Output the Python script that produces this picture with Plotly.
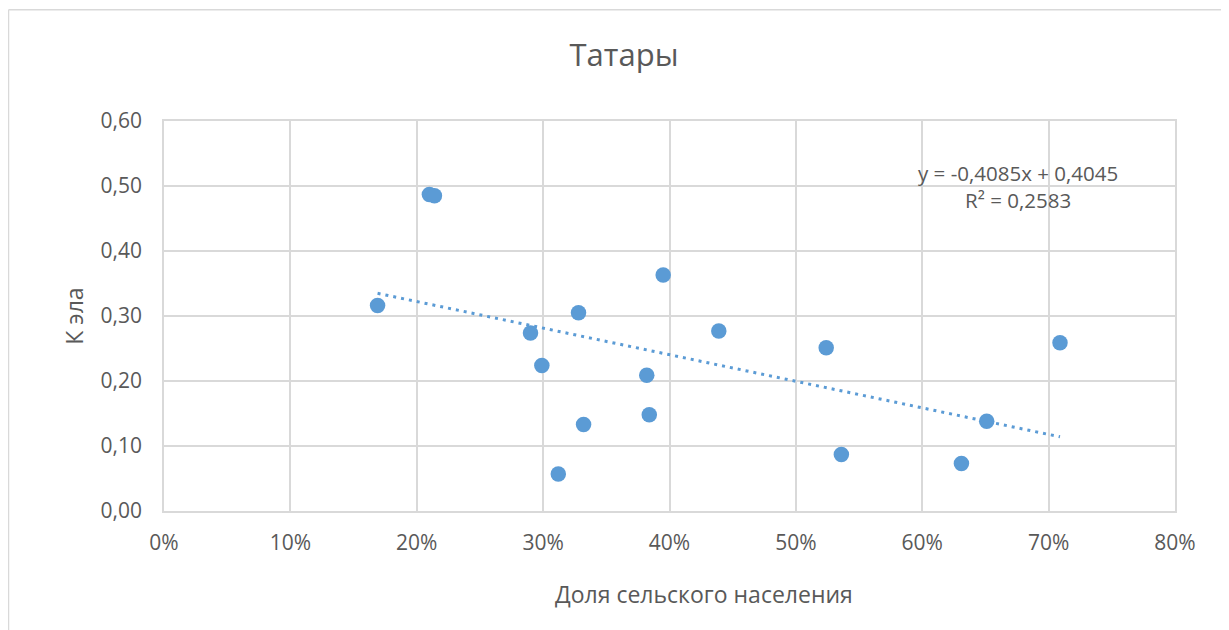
import numpy as np
import plotly.graph_objects as go

# Data
rural_share = [0.169, 0.210, 0.214, 0.290, 0.299, 0.328, 0.395, 0.439, 0.382,
               0.384, 0.332, 0.312, 0.524, 0.709, 0.536, 0.631, 0.651]
k_ela = [0.316, 0.487, 0.485, 0.274, 0.224, 0.305, 0.363, 0.277, 0.209,
         0.148, 0.133, 0.057, 0.251, 0.259, 0.087, 0.073, 0.138]

title_text = "Татары"
x_title = "Доля сельского населения"
y_title = "К эла"
equation_text = "y = -0,4085x + 0,4045<br>R² = 0,2583"

x_ticks = [0, 0.1, 0.2, 0.3, 0.4, 0.5, 0.6, 0.7, 0.8]
x_tick_labels = ["0%", "10%", "20%", "30%", "40%", "50%", "60%", "70%", "80%"]
y_ticks = [0, 0.1, 0.2, 0.3, 0.4, 0.5, 0.6]
y_tick_labels = ["0,00", "0,10", "0,20", "0,30", "0,40", "0,50", "0,60"]

# Linear trendline fitted from the data
xa = np.array(rural_share)
ya = np.array(k_ela)
slope, intercept = np.polyfit(xa, ya, 1)
trend_x = [xa.min(), xa.max()]
trend_y = [slope * v + intercept for v in trend_x]

BLUE = "#5b9bd5"
TEXT = "#595959"
GRID = "#d9d9d9"
FONT = "Open Sans"

fig = go.Figure()
fig.add_trace(go.Scatter(
    x=trend_x, y=trend_y, mode="lines",
    line=dict(color=BLUE, width=3, dash="3px,5px"),
    hoverinfo="skip", showlegend=False,
))
fig.add_trace(go.Scatter(
    x=rural_share, y=k_ela, mode="markers",
    marker=dict(color=BLUE, size=15.5, line=dict(width=0)),
    showlegend=False,
))

fig.add_annotation(
    x=0.676, y=0.5, xref="x", yref="y",
    text=equation_text, showarrow=False, align="center",
    font=dict(family=FONT, size=20.5, color=TEXT),
)

# page has an 8px body margin; figure coordinates are page - 8
W, H = 1221, 622
ml, mt = 156, 113
mr = W - (1175 - 8)
mb = H - (511.5 - 8)
pw, ph = W - ml - mr, H - mt - mb

# x-axis title (offset to the right of plot centre, like the reference)
fig.add_annotation(
    x=(704 - 8 - ml) / pw, y=-(595 - 8 - (H - mb)) / ph,
    xref="paper", yref="paper", xanchor="center", yanchor="middle",
    text=x_title, showarrow=False,
    font=dict(family=FONT, size=23, color=TEXT),
)

# chart-area border (left and top visible in reference)
bx0 = (0.5 - ml) / pw
by1 = 1 + (mt - 1.5) / ph
fig.add_shape(type="line", xref="paper", yref="paper",
              x0=bx0, x1=bx0, y0=-1, y1=by1, line=dict(color=GRID, width=1.5))
fig.add_shape(type="line", xref="paper", yref="paper",
              x0=bx0, x1=2, y0=by1, y1=by1, line=dict(color=GRID, width=1.5))

fig.update_layout(
    width=W, height=H,
    margin=dict(l=ml, r=mr, t=mt, b=mb),
    paper_bgcolor="white", plot_bgcolor="white",
    font=dict(family=FONT, color=TEXT),
    title=dict(text=title_text, x=(624 - 8) / W, xref="container", xanchor="center",
               y=1 - 47 / H, yanchor="middle",
               font=dict(family=FONT, size=31, color=TEXT)),
    xaxis=dict(
        range=[0, 0.8], tickvals=x_ticks, ticktext=x_tick_labels,
        showgrid=True, gridcolor=GRID, gridwidth=1.5,
        showline=True, linecolor=GRID, linewidth=1.5, mirror=True,
        zeroline=False,
        ticks="outside", ticklen=12, tickcolor="rgba(0,0,0,0)",
        tickfont=dict(family=FONT, size=21, color=TEXT),
    ),
    yaxis=dict(
        range=[0, 0.6], tickvals=y_ticks, ticktext=y_tick_labels,
        showgrid=True, gridcolor=GRID, gridwidth=1.5,
        showline=True, linecolor=GRID, linewidth=1.5, mirror=True,
        zeroline=False,
        ticks="outside", ticklen=16, tickcolor="rgba(0,0,0,0)",
        tickfont=dict(family=FONT, size=21, color=TEXT),
        title=dict(text=y_title, standoff=11, font=dict(family=FONT, size=23, color=TEXT)),
    ),
)

fig.write_html("out.html")
